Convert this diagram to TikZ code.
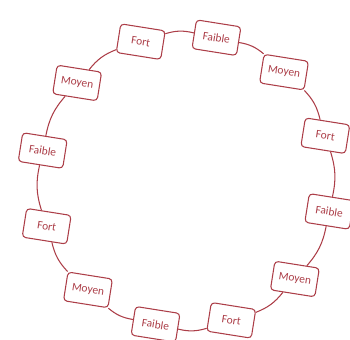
\documentclass[tikz,border=0pt]{standalone}
\usepackage{fontspec}
\setmainfont{Carlito}
\definecolor{rouge}{RGB}{172,62,72}
\tikzset{
  niveau/.style={draw=rouge,text=rouge,fill=white,rounded corners=2pt,line width=0.6pt,
    minimum width=0.9cm,minimum height=0.58cm,inner sep=1pt,rotate=-9,
    font=\fontsize{6.5}{7}\selectfont},
  lien/.style={rouge,line width=0.6pt}
}
\begin{document}
\begin{tikzpicture}
  \useasboundingbox (-3.72,-3.18) rectangle (3.28,3.62);

  \node[niveau] (fort1) at (108:2.93) {Fort};
  \node[niveau] (faible1) at (78:2.93) {Faible};
  \node[niveau] (moyen1) at (48:2.93) {Moyen};
  \node[niveau] (fort2) at (18:2.93) {Fort};
  \node[niveau] (faible2) at (-12:2.93) {Faible};
  \node[niveau] (moyen2) at (-42:2.93) {Moyen};
  \node[niveau] (fort3) at (-72:2.93) {Fort};
  \node[niveau] (faible3) at (-102:2.93) {Faible};
  \node[niveau] (moyen3) at (-132:2.93) {Moyen};
  \node[niveau] (fort4) at (-162:2.93) {Fort};
  \node[niveau] (faible4) at (168:2.93) {Faible};
  \node[niveau] (moyen4) at (138:2.93) {Moyen};

  % le cercle
  \draw[lien] (fort1) to[bend left=15] (faible1);
  \draw[lien] (faible1) to[bend left=15] (moyen1);
  \draw[lien] (moyen1) to[bend left=15] (fort2);
  \draw[lien] (fort2) to[bend left=15] (faible2);
  \draw[lien] (faible2) to[bend left=15] (moyen2);
  \draw[lien] (moyen2) to[bend left=15] (fort3);
  \draw[lien] (fort3) to[bend left=15] (faible3);
  \draw[lien] (faible3) to[bend left=15] (moyen3);
  \draw[lien] (moyen3) to[bend left=15] (fort4);
  \draw[lien] (fort4) to[bend left=15] (faible4);
  \draw[lien] (faible4) to[bend left=15] (moyen4);
  \draw[lien] (moyen4) to[bend left=15] (fort1);
\end{tikzpicture}
\end{document}
